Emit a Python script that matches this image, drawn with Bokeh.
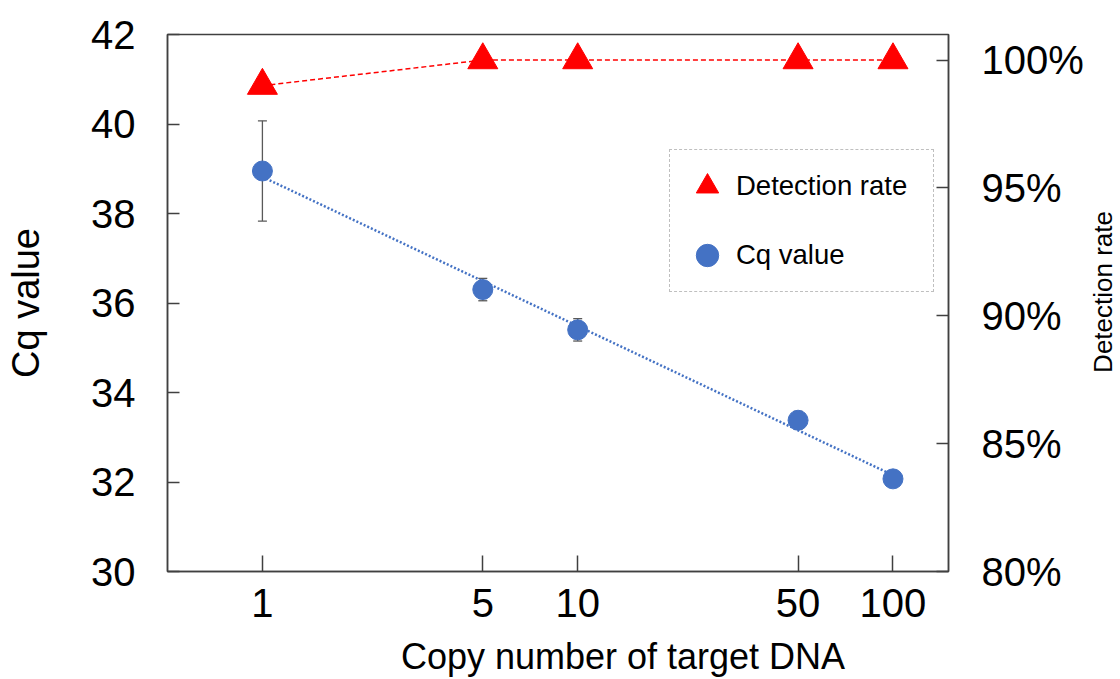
import numpy as np
from bokeh.plotting import figure
from bokeh.layouts import row
from bokeh.models import (Range1d, LinearAxis, FixedTicker, NumeralTickFormatter, PrintfTickFormatter,
                          ColumnDataSource, Whisker, TeeHead, Legend, LegendItem, Div)
from bokeh.embed import file_html
from bokeh.resources import INLINE

# ---- data ----
copies = [1, 5, 10, 50, 100]
cq_mean = [38.95, 36.30, 35.40, 33.38, 32.07]
cq_sd = [1.12, 0.25, 0.25, 0.20, 0.10]
detection_rate = [99.0, 100.0, 100.0, 100.0, 100.0]
x_ticks = [1, 5, 10, 50, 100]
cq_ticks = [30, 32, 34, 36, 38, 40, 42]
rate_ticks = [80, 85, 90, 95, 100]

x_title = "Copy number of target DNA"
left_title = "Cq value"
right_title = "Detection rate"

# linear trendline of Cq vs log10(copies), as in the source chart
slope, intercept = np.polyfit(np.log10(copies), cq_mean, 1)
trend_x = [copies[0], copies[-1]]
trend_y = [intercept + slope * np.log10(v) for v in trend_x]

FONT = "Liberation Sans"
AX = "#404040"
BLUE = "#4472C4"
RED = "#FF0000"

p = figure(width=1086, height=679, x_axis_type="log",
           x_range=Range1d(0.5, 150), y_range=Range1d(30, 42),
           output_backend="svg", toolbar_location=None,
           min_border_left=167, min_border_right=138, min_border_top=34, min_border_bottom=108)
p.extra_y_ranges = {"rate": Range1d(80, 101)}
p.xgrid.visible = False
p.ygrid.visible = False
p.outline_line_color = AX
p.outline_line_width = 1.5
p.background_fill_color = "white"
p.border_fill_color = "white"

# error bars
src = ColumnDataSource(dict(x=copies,
                            upper=[m + s for m, s in zip(cq_mean, cq_sd)],
                            lower=[m - s for m, s in zip(cq_mean, cq_sd)]))
wh = Whisker(base="x", upper="upper", lower="lower", source=src,
             line_color="#595959", line_width=1.3,
             upper_head=TeeHead(size=9, line_color="#595959", line_width=1.3),
             lower_head=TeeHead(size=9, line_color="#595959", line_width=1.3))
p.add_layout(wh)

p.line(trend_x, trend_y, line_color=BLUE, line_dash="2 2", line_width=2.5)
p.line(copies, detection_rate, y_range_name="rate", line_color=RED, line_dash="5 3", line_width=1.5)
circ = p.scatter(copies, cq_mean, marker="circle", size=20, fill_color=BLUE, line_color=BLUE)
tri = p.scatter(copies, detection_rate, y_range_name="rate", marker="triangle", size=30,
                fill_color=RED, line_color=RED)

# axes
p.xaxis.ticker = FixedTicker(ticks=x_ticks)
p.xaxis.formatter = NumeralTickFormatter(format="0")
p.xaxis.major_tick_in = 16
p.xaxis.major_label_standoff = 17
# the source centres this title right of the plot centre; pad with no-break spaces
p.xaxis.axis_label = "\u00a0" * 13 + x_title
p.xaxis.axis_label_standoff = 16

p.yaxis.ticker = FixedTicker(ticks=cq_ticks)
p.yaxis.axis_label = left_title
p.yaxis.major_tick_in = 12
p.yaxis.major_label_standoff = 32
p.yaxis.axis_label_standoff = 41

ra = LinearAxis(y_range_name="rate", ticker=FixedTicker(ticks=rate_ticks),
                formatter=PrintfTickFormatter(format="%d%%"))
ra.major_tick_in = 12
ra.major_label_standoff = 33
p.add_layout(ra, "right")

for ax in [p.xaxis[0], p.yaxis[0], ra]:
    ax.major_tick_out = 0
    ax.minor_tick_line_color = None
    ax.axis_line_color = AX
    ax.axis_line_width = 1.5
    ax.major_tick_line_color = AX
    ax.major_tick_line_width = 1.5
    ax.major_label_text_font = FONT
    ax.major_label_text_font_size = "40px"
    ax.major_label_text_color = "black"
    ax.axis_label_text_font = FONT
    ax.axis_label_text_font_size = "36px"
    ax.axis_label_text_font_style = "normal"
    ax.axis_label_text_color = "black"
p.yaxis.axis_label_text_font_size = "38px"

legend = Legend(items=[LegendItem(label="Detection rate", renderers=[tri]),
                       LegendItem(label="Cq value", renderers=[circ])],
                location=(502, 279), orientation="vertical", padding=8, margin=0, spacing=13,
                glyph_width=58, glyph_height=56, label_width=189, label_height=56, label_standoff=0,
                label_text_font=FONT, label_text_font_size="27.5px", label_text_color="black",
                border_line_color="#808080", border_line_dash="4 3", border_line_width=1,
                background_fill_color="white", background_fill_alpha=1)
p.add_layout(legend)

# right-hand axis title, reading bottom-to-top, in a narrow strip beside the plot
title_html = (
    '<div style="writing-mode: vertical-rl; transform: rotate(180deg); '
    "font-family: 'Liberation Sans'; font-size: 26px; line-height: 26px; "
    'white-space: nowrap; color: black; margin: 211px 0 0 4px; padding: 0;">'
    + right_title + "</div>"
)
side = Div(text=title_html, width=34, height=679, styles={"margin": "0", "padding": "0"})

layout = row(p, side, spacing=0)

open("out.html", "w").write(file_html(layout, INLINE))
